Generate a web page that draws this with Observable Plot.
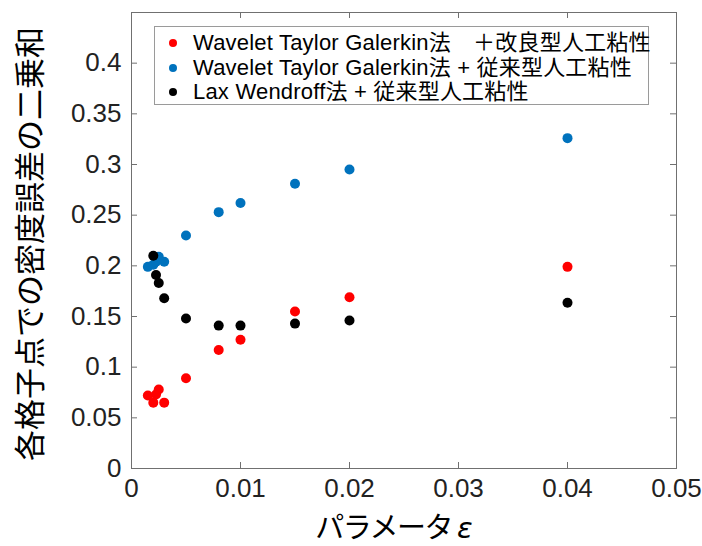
<!DOCTYPE html>
<html>
<head>
<meta charset="utf-8">
<script src="https://cdn.jsdelivr.net/npm/d3@7"></script>
<script src="https://cdn.jsdelivr.net/npm/@observablehq/plot@0.6"></script>
<style>
  html, body { margin: 0; padding: 0; background: #fff; }
  #wrap { position: relative; width: 702px; height: 546px; }
  #legend { position: absolute; left: 154px; top: 26px; width: 493px; height: 77px;
    border: 1.5px solid #9a9a9a; background: #fff; font-family: "Liberation Sans", Arial, "Noto Sans CJK JP", sans-serif;
    font-size: 22px; color: #000; box-sizing: content-box; }
  .row { position: absolute; left: 0; height: 26px; line-height: 26px; white-space: nowrap; }
  .dot { position: absolute; left: 14px; top: 9px; width: 8px; height: 8px; border-radius: 50%; }
  .lab { position: absolute; left: 38px; top: 0; letter-spacing: 0.2px; }
  #ylab { position: absolute; left: 27px; top: 244px; transform: translate(-50%, -50%) rotate(-90deg);
    font-family: "Noto Sans CJK JP", sans-serif; font-size: 31px; line-height: 1; white-space: nowrap; color: #000; }
  #xlab { position: absolute; left: 394px; top: 527px; transform: translate(-50%, -50%);
    font-family: "Noto Sans CJK JP", sans-serif; font-size: 29px; line-height: 1; white-space: nowrap; color: #000; letter-spacing: -1.5px; }
</style>
</head>
<body>
<div id="wrap"></div>
<script>
// ---- data ----
const seriesNames = [
  "Wavelet Taylor Galerkin法　＋改良型人工粘性",
  "Wavelet Taylor Galerkin法 + 従来型人工粘性",
  "Lax Wendroff法 + 従来型人工粘性"
];
const seriesColors = ["#ff0000", "#0072bd", "#000000"];

const redX = [0.0015, 0.002, 0.00225, 0.0025, 0.003, 0.005, 0.008, 0.01, 0.015, 0.02, 0.04];
const redY = [0.072, 0.065, 0.073, 0.078, 0.065, 0.089, 0.117, 0.127, 0.155, 0.169, 0.199];

const blueX = [0.0015, 0.002, 0.00225, 0.0025, 0.003, 0.005, 0.008, 0.01, 0.015, 0.02, 0.04];
const blueY = [0.199, 0.201, 0.204, 0.209, 0.204, 0.230, 0.253, 0.262, 0.281, 0.295, 0.326];

const blackX = [0.002, 0.00225, 0.0025, 0.003, 0.005, 0.008, 0.01, 0.015, 0.02, 0.04];
const blackY = [0.210, 0.191, 0.183, 0.168, 0.148, 0.141, 0.141, 0.143, 0.146, 0.1635];

const xTicks = [0, 0.01, 0.02, 0.03, 0.04, 0.05];
const xTickLabels = ["0", "0.01", "0.02", "0.03", "0.04", "0.05"];
const yTicks = [0, 0.05, 0.1, 0.15, 0.2, 0.25, 0.3, 0.35, 0.4];
const yTickLabels = ["0", "0.05", "0.1", "0.15", "0.2", "0.25", "0.3", "0.35", "0.4"];

const xLabel = "パラメータ";
const xLabelSym = "ε";
const yLabel = "各格子点での密度誤差の二乗和";

// ---- build ----
const toRows = (xs, ys) => xs.map((x, i) => ({x, y: ys[i]}));
const red = toRows(redX, redY), blue = toRows(blueX, blueY), black = toRows(blackX, blackY);

const W = 702, H = 546, mL = 131, mR = 26, mT = 12, mB = 78;
const pw = W - mL - mR, ph = H - mT - mB;
const tl = 6;
const axisColor = "#707070";

const chart = Plot.plot({
  width: W, height: H,
  marginLeft: mL, marginRight: mR, marginTop: mT, marginBottom: mB,
  style: {fontFamily: "'Liberation Sans', Arial, sans-serif", fontSize: "26px", color: "#222", background: "#fff"},
  x: {domain: [0, 0.05]},
  y: {domain: [0, 0.45]},
  marks: [
    Plot.frame({stroke: axisColor}),
    Plot.ruleX(xTicks, {stroke: axisColor, insetTop: ph - tl}),
    Plot.ruleX(xTicks, {stroke: axisColor, insetBottom: ph - tl}),
    Plot.ruleY(yTicks, {stroke: axisColor, insetRight: pw - tl}),
    Plot.ruleY(yTicks, {stroke: axisColor, insetLeft: pw - tl}),
    Plot.axisX({ticks: xTicks, tickSize: 0, tickPadding: 10, label: null,
      tickFormat: d => xTickLabels[xTicks.indexOf(d)]}),
    Plot.axisY({ticks: yTicks, tickSize: 0, tickPadding: 10, label: null,
      tickFormat: d => yTickLabels[yTicks.indexOf(d)]}),
    Plot.dot(red, {x: "x", y: "y", r: 5, fill: seriesColors[0]}),
    Plot.dot(blue, {x: "x", y: "y", r: 5, fill: seriesColors[1]}),
    Plot.dot(black, {x: "x", y: "y", r: 5, fill: seriesColors[2]})
  ]
});

const wrap = document.getElementById("wrap");
wrap.appendChild(chart);

// legend
const leg = document.createElement("div");
leg.id = "legend";
const rowTops = [3, 28, 52];
seriesNames.forEach((name, i) => {
  const row = document.createElement("div");
  row.className = "row";
  row.style.top = rowTops[i] + "px";
  const d = document.createElement("span");
  d.className = "dot";
  d.style.background = seriesColors[i];
  const t = document.createElement("span");
  t.className = "lab";
  t.textContent = name;
  row.appendChild(d); row.appendChild(t);
  leg.appendChild(row);
});
wrap.appendChild(leg);

// axis labels
const yl = document.createElement("div");
yl.id = "ylab"; yl.textContent = yLabel;
wrap.appendChild(yl);
const xl = document.createElement("div");
xl.id = "xlab";
xl.textContent = xLabel + " ";
const em = document.createElement("i");
em.textContent = xLabelSym;
em.style.fontFamily = "'DejaVu Sans', sans-serif";
em.style.letterSpacing = "0";
xl.appendChild(em);
wrap.appendChild(xl);
</script>
</body>
</html>
